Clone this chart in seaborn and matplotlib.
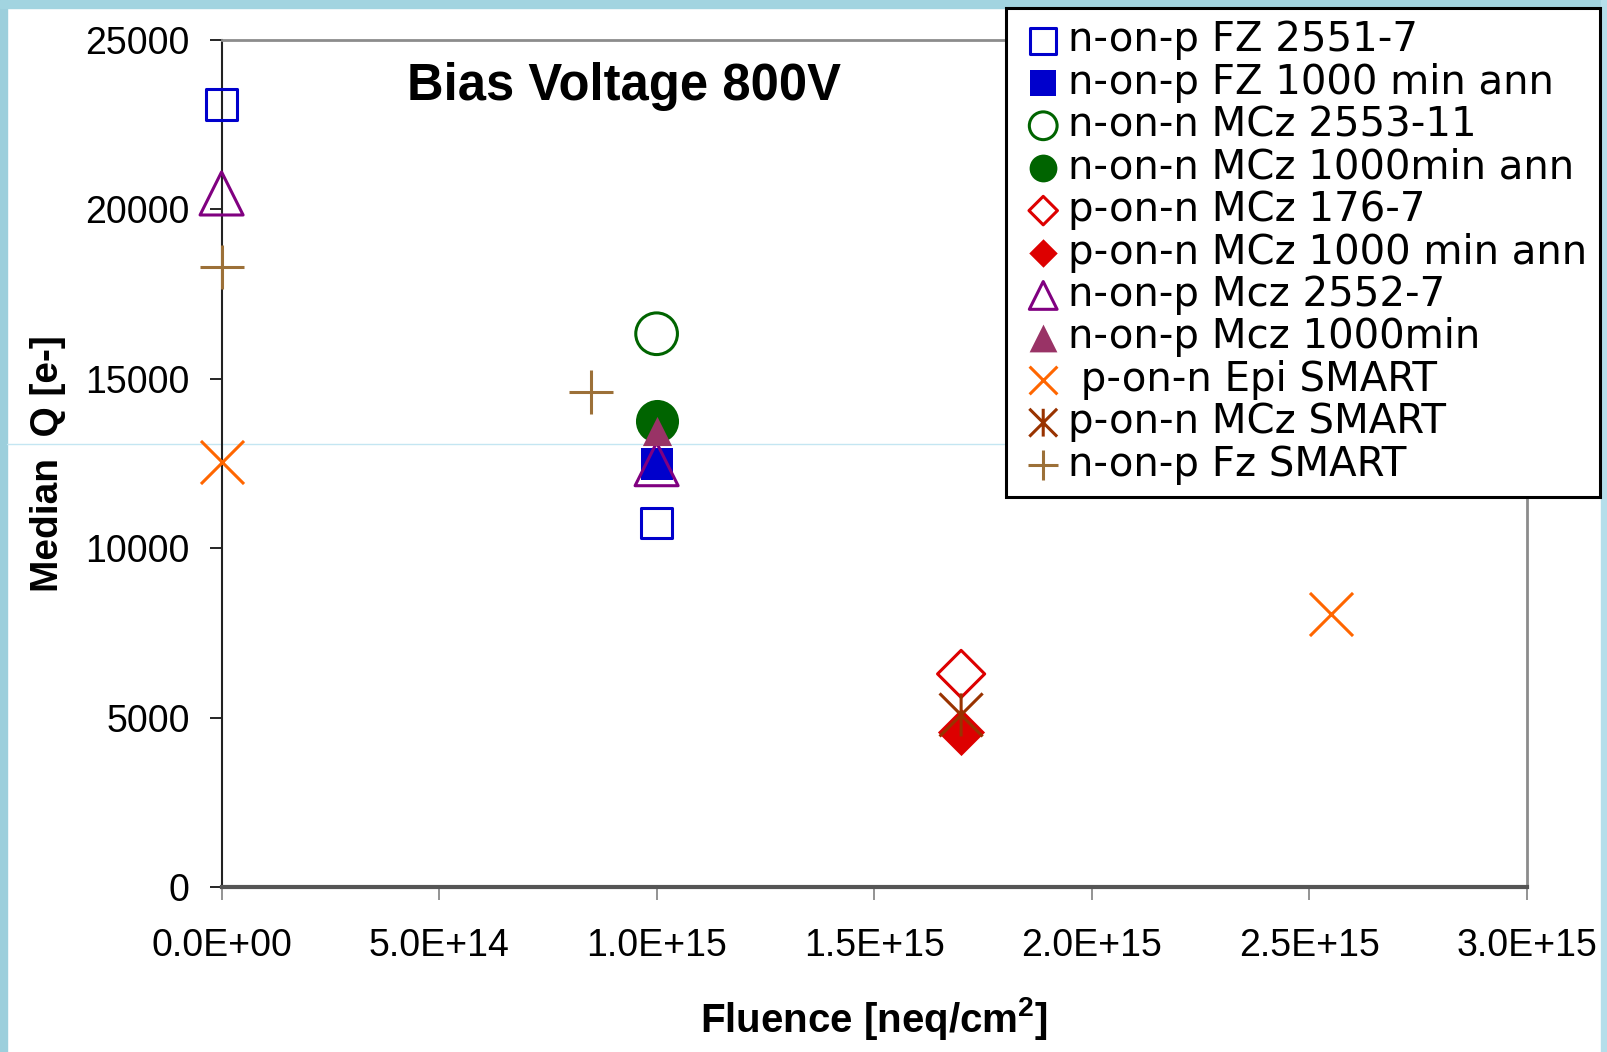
import numpy as np
import pandas as pd
import matplotlib
matplotlib.use("Agg")
import matplotlib.pyplot as plt
from matplotlib.patches import Rectangle
from matplotlib.lines import Line2D
from matplotlib.path import Path
from matplotlib.ticker import FuncFormatter
import seaborn as sns

# values
series_labels = ["n-on-p FZ 2551-7", "n-on-p FZ 1000 min ann", "n-on-n MCz 2553-11",
                 "n-on-n MCz 1000min ann", "p-on-n MCz 176-7", "p-on-n MCz 1000 min ann",
                 "n-on-p Mcz 2552-7", "n-on-p Mcz 1000min", " p-on-n Epi SMART",
                 "p-on-n MCz SMART", "n-on-p Fz SMART"]
fluence = [[0.0, 1.0e15], [1.0e15], [1.0e15], [1.0e15], [1.7e15], [1.7e15],
           [0.0, 1.0e15], [1.0e15], [0.0, 2.55e15], [1.7e15], [0.0, 8.5e14]]
median_q = [[23100, 10750], [12500], [16330], [13750], [6290], [4570],
            [20470, 12480], [13450], [12550, 8050], [5080], [18300, 14600]]

# asterisk: vertical bar plus two diagonals
asterisk = Path([(0, -1), (0, 1), (-1, -1), (1, 1), (-1, 1), (1, -1)],
                [Path.MOVETO, Path.LINETO, Path.MOVETO, Path.LINETO, Path.MOVETO, Path.LINETO])

styles = [
    dict(marker="s", color="#0000CC", filled=False, ms=22, leg=19),
    dict(marker="s", color="#0000CC", filled=True, ms=23, leg=19),
    dict(marker="o", color="#006400", filled=False, ms=30, leg=20),
    dict(marker="o", color="#006400", filled=True, ms=31, leg=20),
    dict(marker="D", color="#DD0000", filled=False, ms=24, leg=14.5),
    dict(marker="D", color="#DD0000", filled=True, ms=24, leg=14.5),
    dict(marker="^", color="#800080", filled=False, ms=31, leg=20),
    dict(marker="^", color="#993366", filled=True, ms=21, leg=20),
    dict(marker="x", color="#FF6600", filled=False, ms=31, leg=20),
    dict(marker=asterisk, color="#993300", filled=False, ms=31, leg=20),
    dict(marker="+", color="#9C7038", filled=False, ms=31, leg=21),
]

sns.set_style("white")
plt.rcParams["font.family"] = ["Liberation Sans", "DejaVu Sans"]
plt.rcParams["mathtext.fontset"] = "custom"
plt.rcParams["mathtext.rm"] = "Liberation Sans:bold"
plt.rcParams["mathtext.bf"] = "Liberation Sans:bold"
plt.rcParams["text.color"] = "black"
plt.rcParams["axes.labelcolor"] = "black"
plt.rcParams["xtick.color"] = "black"
plt.rcParams["ytick.color"] = "black"

fig = plt.figure(figsize=(16.08, 10.52), dpi=100, facecolor="white")
ax = fig.add_axes([0.1378, 0.1568, 0.8116, 0.8052])
ax.set_facecolor("none")

# slide frame
fig.add_artist(Rectangle((0, 0), 0.0045, 1, transform=fig.transFigure, color="#9ccfdc", zorder=-2))
fig.add_artist(Rectangle((0, 0.9925), 1, 0.0075, transform=fig.transFigure, color="#a2d4e0", zorder=-2))
fig.add_artist(Rectangle((0.9955, 0), 0.0045, 1, transform=fig.transFigure, color="#b5deea", zorder=-2))
fig.add_artist(Line2D([0.0045, 0.9955], [0.578, 0.578], transform=fig.transFigure,
                      color="#c4e6f2", lw=1, zorder=-1))

for lab, xs, ys, st in zip(series_labels, fluence, median_q, styles):
    df = pd.DataFrame({"fluence": xs, "q": ys})
    kw = dict(data=df, x="fluence", y="q", marker=st["marker"], s=st["ms"] ** 2, label=lab,
              ax=ax, clip_on=False, zorder=3)
    if st["filled"]:
        sns.scatterplot(color=st["color"], edgecolor=st["color"], linewidth=0, **kw)
    elif st["marker"] in ("x", "+"):
        sns.scatterplot(color=st["color"], linewidth=2.2, **kw)
    else:
        sns.scatterplot(facecolors="none", edgecolors=st["color"], linewidth=2.2, **kw)

ax.set_xlim(0, 3.0e15)
ax.set_ylim(0, 25000)
ax.set_xticks(np.arange(0, 3.01e15, 0.5e15))
ax.set_yticks(np.arange(0, 25001, 5000))
ax.xaxis.set_major_formatter(FuncFormatter(lambda v, p: f"{v:.1E}"))

ax.tick_params(axis="y", direction="out", length=9, width=1.2, color="black",
               labelcolor="black", labelsize=27, pad=14, left=True)
ax.tick_params(axis="x", direction="out", length=9.5, width=1.2, color="#808080",
               labelcolor="black", labelsize=27, pad=20, bottom=True)

for side in ["top", "right"]:
    ax.spines[side].set_color("#8c8c8c")
    ax.spines[side].set_linewidth(2)
ax.spines["left"].set_color("#222222")
ax.spines["left"].set_linewidth(1.5)
ax.spines["bottom"].set_color("#555555")
ax.spines["bottom"].set_linewidth(3)

ax.set_xlabel(r"Fluence [neq/cm$^{\mathbf{2}}$]", fontsize=29, fontweight="bold", labelpad=22)
ax.set_ylabel("Median  Q [e-]", fontsize=28, fontweight="bold", labelpad=14)

ax.text(0.308, 0.945, "Bias Voltage 800V", transform=ax.transAxes, fontsize=36.5,
        fontweight="bold", ha="center", va="center")

leg = ax.legend(loc="upper left", bbox_to_anchor=(0.6256, 0.992), bbox_transform=fig.transFigure,
                borderaxespad=0, fancybox=False, frameon=True, edgecolor="black",
                prop={"family": "DejaVu Sans", "size": 29}, labelspacing=0.06,
                handlelength=1.25, handletextpad=0.0, borderpad=0.3, framealpha=1)
leg.get_frame().set_linewidth(2.2)
leg.set_zorder(5)
for h, st in zip(leg.legend_handles, styles):
    h.set_sizes([st["leg"] ** 2])

fig.savefig("out.png", dpi=100, facecolor="white")
